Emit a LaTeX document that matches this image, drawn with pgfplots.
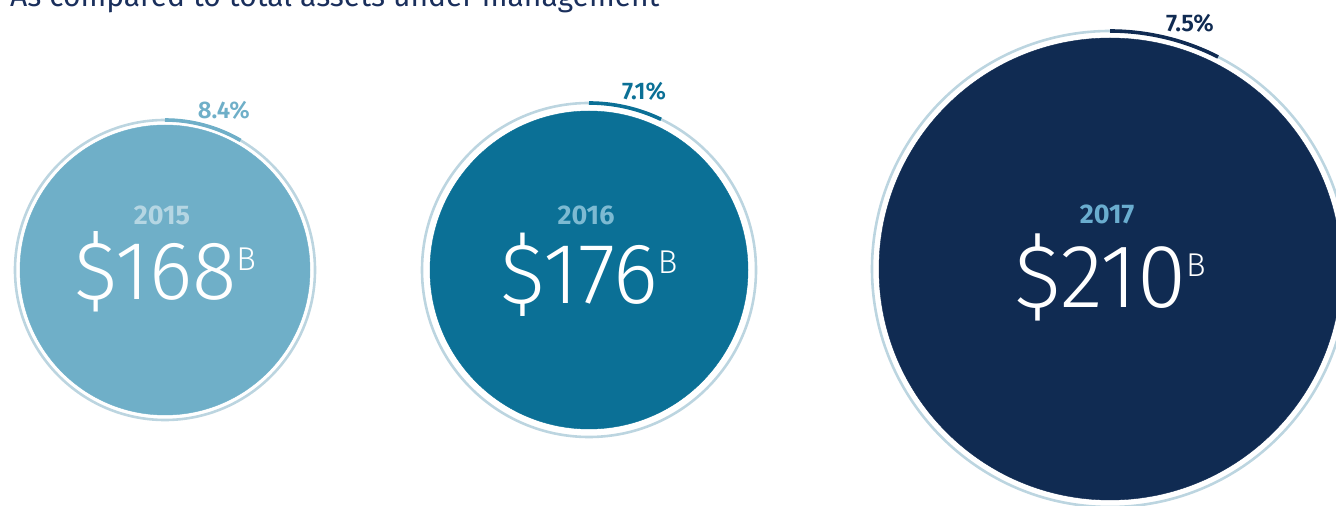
\documentclass[border=0pt]{standalone}
\usepackage{pgfplots}
\pgfplotsset{compat=1.18}
\usepackage{fontspec}
\setmainfont{Fira Sans}
\newfontfamily\lightfont{Fira Sans Light}[FakeStretch=0.99]
\newfontfamily\semifont{Fira Sans SemiBold}
\definecolor{cA}{HTML}{6FAFC8}
\definecolor{cB}{HTML}{0B7096}
\definecolor{cC}{HTML}{102B52}
\definecolor{ringc}{HTML}{BCD5E0}
\definecolor{yA}{HTML}{B5D6E3}
\definecolor{yB}{HTML}{7DBAD2}
\definecolor{yC}{HTML}{6AADCF}
\definecolor{tcol}{HTML}{1A2F5C}
\pgfplotsset{
  bubble/.style n args={2}{
    scatter, only marks, mark=*,
    visualization depends on={value \thisrow{r} \as \rr},
    visualization depends on={value \thisrow{R} \as \RR},
    visualization depends on={value \thisrow{pct} \as \pct},
    visualization depends on={value \thisrow{val} \as \val},
    visualization depends on={value \thisrow{year} \as \yr},
    visualization depends on={value \thisrow{fs} \as \fs},
    visualization depends on={value \thisrow{vb} \as \vb},
    scatter/@pre marker code/.code={%
      \draw[ringc, line width=2.6pt] (0,0) circle[radius=\RR pt];
      \draw[#1, line width=3.6pt] (90:\RR pt) arc[start angle=90, end angle={90-3.6*\pct}, radius=\RR pt];
      \node[text=#1, font=\semifont\fontsize{24}{24}\selectfont, inner sep=0pt] at ({90-2.41*\pct}:{(\RR+20)*1pt}) {\pct\%};
      \pgfsetfillcolor{#1}\pgfsetstrokecolor{#1}%
      \pgfplotmarksize=\rr pt\relax
    },
    scatter/@post marker code/.code={%
      \node[anchor=base, text=#2, font=\bfseries\fontsize{27}{27}\selectfont, inner sep=0pt] at (-3pt,45pt) {\yr};
      \node[anchor=base, text=white, inner sep=0pt] at (0,-\vb pt) {\lightfont\fontsize{\fs}{\fs}\selectfont\$\val\hspace{0pt}\raisebox{\dimexpr \fs pt*35/100\relax}{\fontsize{33}{33}\selectfont B}};
    },
  }
}
\begin{document}
\begin{tikzpicture}
\begin{axis}[
  at={(0,0)}, anchor=south west,
  x=1pt, y=1pt, xmin=0, xmax=1336, ymin=0, ymax=506,
  hide axis, clip=false,
]
\node[anchor=base west, inner sep=0pt, font=\fontsize{30}{30}\selectfont, text=tcol] at (axis cs:10,499) {As compared to total assets under management};
\addplot[bubble={cA}{yA}] table {
x y r R pct val year fs vb
165 236 145 150 8.4 168 2015 83 30
};
\addplot[bubble={cB}{yB}] table {
x y r R pct val year fs vb
589 236 159 167 7.1 176 2016 86 34
};
\addplot[bubble={cC}{yC}] table {
x y r R pct val year fs vb
1110 237 231 238 7.5 210 2017 90 39
};
\end{axis}
\pgfresetboundingbox
\useasboundingbox (0,0) rectangle (1336pt,506pt);
\end{tikzpicture}
\end{document}
